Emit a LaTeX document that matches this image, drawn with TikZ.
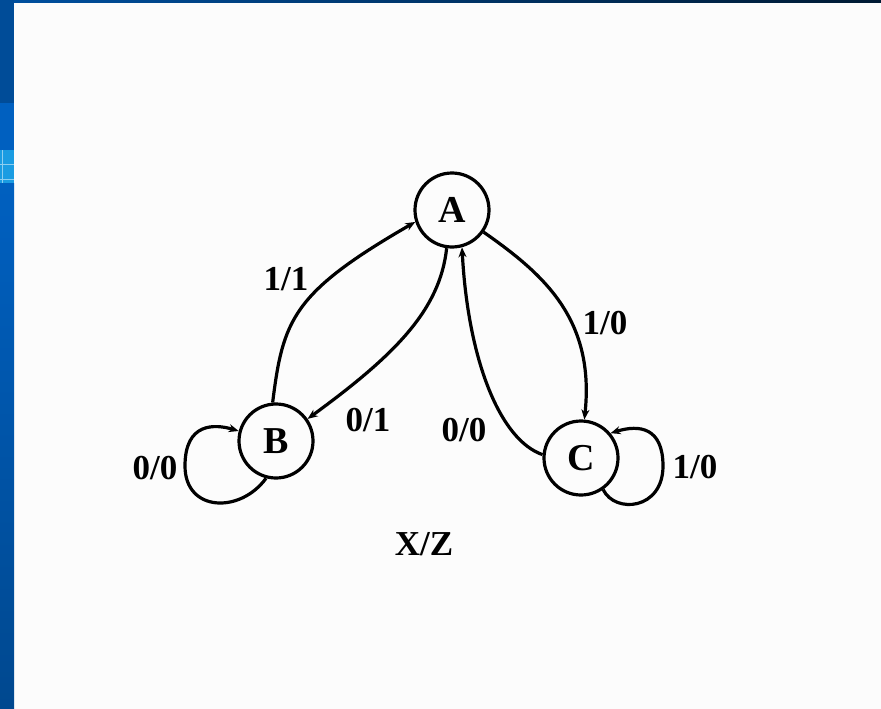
\documentclass[tikz,border=0pt]{standalone}
\usepackage{fontspec}
\setmainfont{Liberation Serif}
\usetikzlibrary{arrows.meta}
\definecolor{barA}{HTML}{004C98}
\definecolor{barB}{HTML}{0060C0}
\definecolor{barC}{HTML}{1A9CE2}
\definecolor{barD}{HTML}{00488F}
\definecolor{topL}{HTML}{0050A0}
\definecolor{topR}{HTML}{001A33}
\tikzset{
  state/.style={circle, draw, line width=3.2pt, minimum size=74pt, inner sep=0pt, font=\fontsize{38}{38}\selectfont\bfseries},
  lbl/.style={font=\fontsize{35}{35}\selectfont\bfseries, inner sep=0pt},
  edge/.style={line width=3.2pt, -{Stealth[length=10pt,width=8pt]}}
}
\begin{document}
\begin{tikzpicture}[x=1pt,y=-1pt]
\useasboundingbox (0,0) rectangle (881,709);
\fill[white!99!black] (0,0) rectangle (881,709);
% slide frame
\shade[left color=topL, right color=topR] (0,0) rectangle (881,3);
\fill[barA] (0,0) rectangle (14,103);
\fill[barB] (0,103) rectangle (14,150);
\fill[barC] (0,150) rectangle (14,183);
\draw[white!50!barC, line width=0.6pt] (0,164) -- (14,164) (0,179) -- (14,179) (2,150) -- (2,183);
\shade[top color=barB, bottom color=barD] (0,183) rectangle (14,709);
% states
\node[state] (A) at (452,210) {A};
\node[state] (B) at (276,441) {B};
\node[state] (C) at (581,458) {C};
% transitions
\draw[edge] (B.95) .. controls (283,320) and (292,293) .. (A.198);
\draw[edge] (A.262) .. controls (440,310) and (395,355) .. (B.35);
\draw[edge] (C.175) .. controls (500,440) and (468,360) .. (A.285);
\draw[edge] (A.-35) .. controls (545,275) and (595,320) .. (C.85);
\draw[edge] (B.-105) .. controls (240,514) and (185,512) .. (185,466) .. controls (185,422) and (215,424) .. (B.165);
\draw[edge] (C.-55) .. controls (615,514) and (663,510) .. (663,466) .. controls (663,428) and (640,424) .. (C.40);
% labels
\node[lbl] (l11) at (286,279) {1/1};
\node[lbl] (l01) at (368,420) {0/1};
\node[lbl] (l00b) at (155,468) {0/0};
\node[lbl] (l00c) at (464,430) {0/0};
\node[lbl] (l10a) at (605,323) {1/0};
\node[lbl] (l10c) at (695,467) {1/0};
\node[lbl] (xz) at (424,544) {X/Z};
\end{tikzpicture}
\end{document}
